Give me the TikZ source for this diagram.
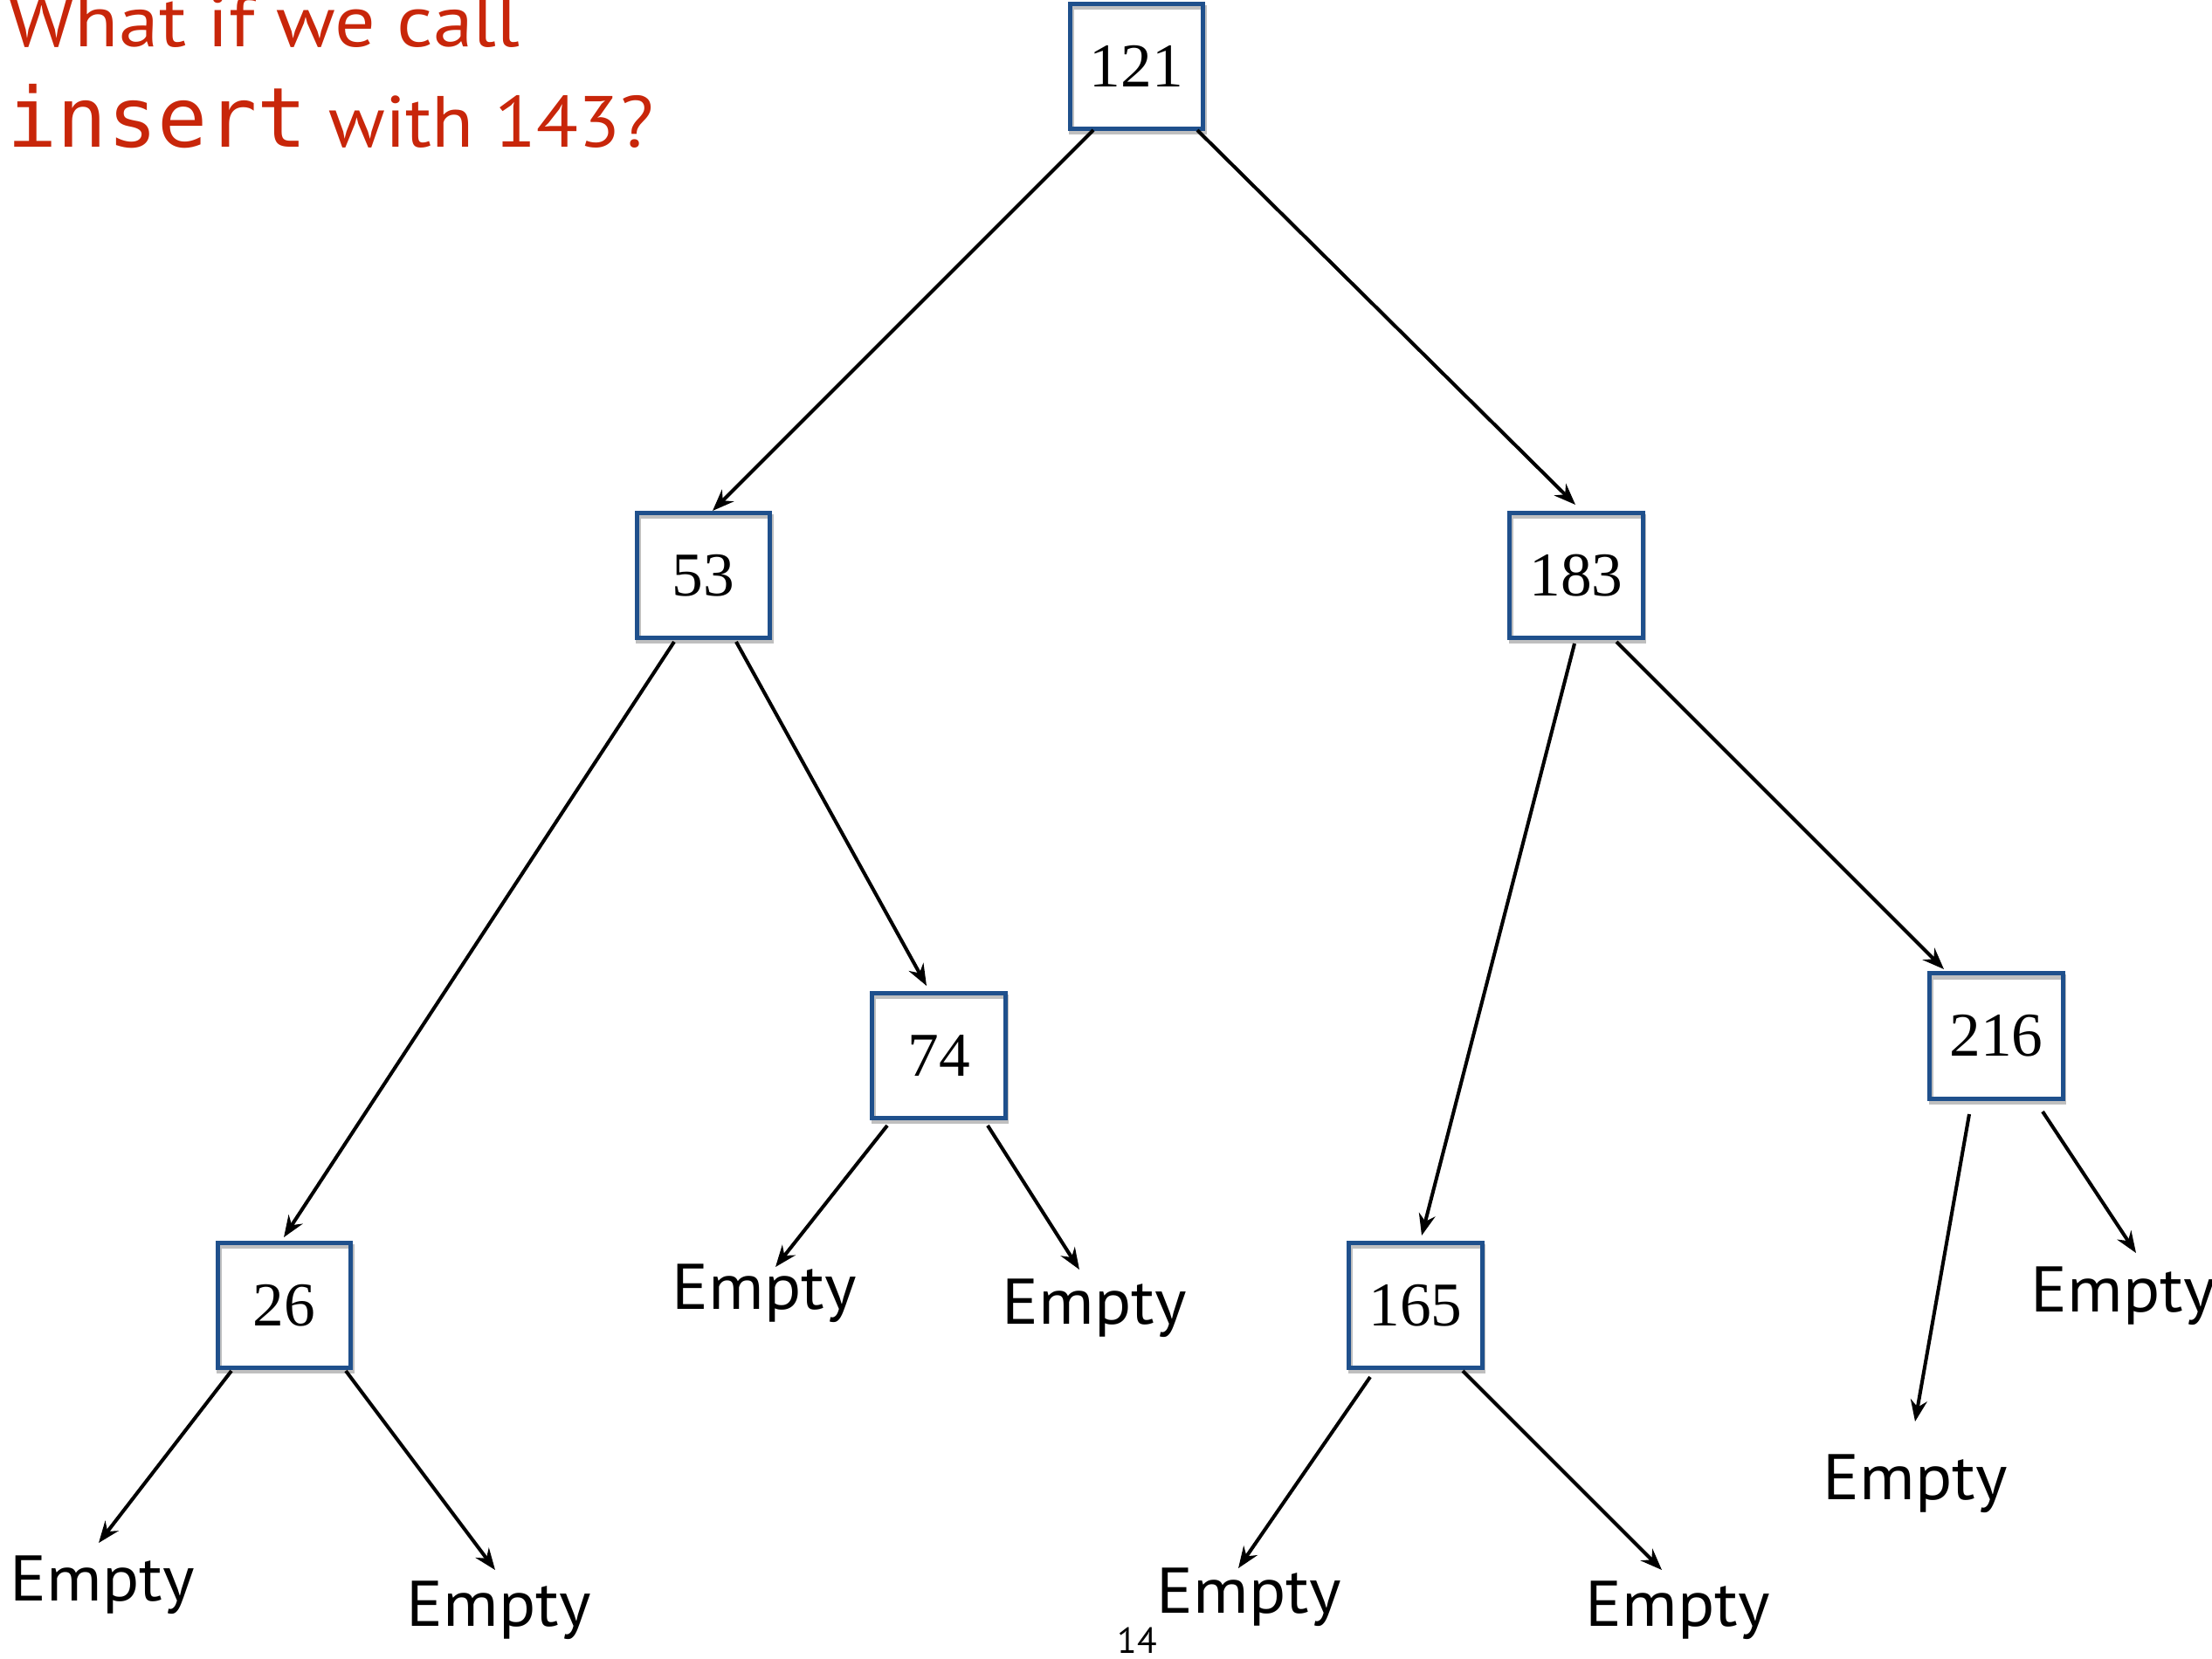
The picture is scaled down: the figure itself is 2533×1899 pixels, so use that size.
\documentclass[tikz,border=0pt]{standalone}
\usepackage{fontspec}
\setmainfont{PT Sans}
\newfontfamily\numfont{Liberation Serif}
\setmonofont{DejaVu Sans Mono}
\usetikzlibrary{calc,arrows.meta}
\definecolor{boxblue}{RGB}{31,80,140}
\definecolor{titlered}{RGB}{200,38,10}
\tikzset{
  bst/.style={draw=boxblue, line width=1.42pt, minimum width=1.52cm, minimum height=1.43cm, inner sep=0pt,
    font=\numfont\fontsize{20.3pt}{24pt}\selectfont,
    preaction={draw=black, opacity=0.25, line width=1.6pt, transform canvas={shift={(0.4pt,-1.1pt)}}}},
  arr/.style={line width=1.15pt, -{Stealth[length=7pt,width=5.4pt]}},
  emptylbl/.style={anchor=base west, inner sep=0pt, font=\fontsize{21pt}{24pt}\selectfont},
  titletext/.style={anchor=base west, inner sep=0pt, text=titlered, font=\fontsize{23.6pt}{28pt}\selectfont},
}
\newcommand{\emptytext}{\scalebox{1.06}[1]{Empty}}
\begin{document}
\begin{tikzpicture}[x=0.01cm,y=-0.01cm]
\useasboundingbox (0,0) rectangle (2533,1899);
% title
\node[titletext] (t1) at (9,53) {\scalebox{1.11}[1]{What if we call}};
\node[titletext, font=\ttfamily\fontsize{27pt}{30pt}\selectfont] (t2) at (8,168) {insert};
\node[titletext] (t3) at (376,168) {\scalebox{1.06}[1]{with 143?}};
% nodes
\node[bst] (n121) at (1301.5,76) {121};
\node[bst] (n53) at (805.5,659) {53};
\node[bst] (n183) at (1805,659) {183};
\node[bst] (n74) at (1075,1209) {74};
\node[bst] (n216) at (2286,1186.5) {216};
\node[bst] (n26) at (325.5,1495) {26};
\node[bst] (n165) at (1621,1495) {165};
% empty labels
\node[emptylbl] (e26L) at (11,1833) {\emptytext};
\node[emptylbl] (e26R) at (465,1862) {\emptytext};
\node[emptylbl] (e74L) at (769,1499) {\emptytext};
\node[emptylbl] (e74R) at (1147,1516) {\emptytext};
\node[emptylbl] (e165L) at (1324,1847) {\emptytext};
\node[emptylbl] (e165R) at (1815,1862) {\emptytext};
\node[emptylbl] (e216L) at (2087,1717) {\emptytext};
\node[emptylbl] (e216R) at (2325,1502) {\emptytext};
% page number
\node[anchor=base, inner sep=0pt, font=\fontsize{11.8pt}{14pt}\selectfont] (pg) at (1302,1893) {14};
% connectors
\draw[arr] ($(n121)+(-49.5,73)$) -- ($(n53)+(10.5,-74)$);
\draw[arr] ($(n121)+(69.5,73)$) -- ($(n183)+(-1,-81)$);
\draw[arr] ($(n53)+(-33.5,76)$) -- ($(n26)+(-0.5,-78)$);
\draw[arr] ($(n53)+(37.5,76)$) -- ($(n74)+(-14,-80)$);
\draw[arr] ($(n183)+(-2,78)$) -- ($(n165)+(7,-80)$);
\draw[arr] ($(n183)+(46,76)$) -- ($(n216)+(-60,-76.5)$);
\draw[arr] ($(n74)+(-59,80)$) -- ($(e74L.base west)+(119,-48)$);
\draw[arr] ($(n74)+(56,80)$) -- ($(e74R.base west)+(89,-62)$);
\draw[arr] ($(n26)+(-60.5,75)$) -- ($(e26L.base west)+(102,-66)$);
\draw[arr] ($(n26)+(70.5,75)$) -- ($(e26R.base west)+(102,-64)$);
\draw[arr] ($(n165)+(-52,82)$) -- ($(e165L.base west)+(94,-51)$);
\draw[arr] ($(n165)+(54,75)$) -- ($(e165R.base west)+(88,-64)$);
\draw[arr] ($(n216)+(-31,89.5)$) -- ($(e216L.base west)+(106,-89)$);
\draw[arr] ($(n216)+(53,86.5)$) -- ($(e216R.base west)+(121,-67)$);
\end{tikzpicture}
\end{document}
